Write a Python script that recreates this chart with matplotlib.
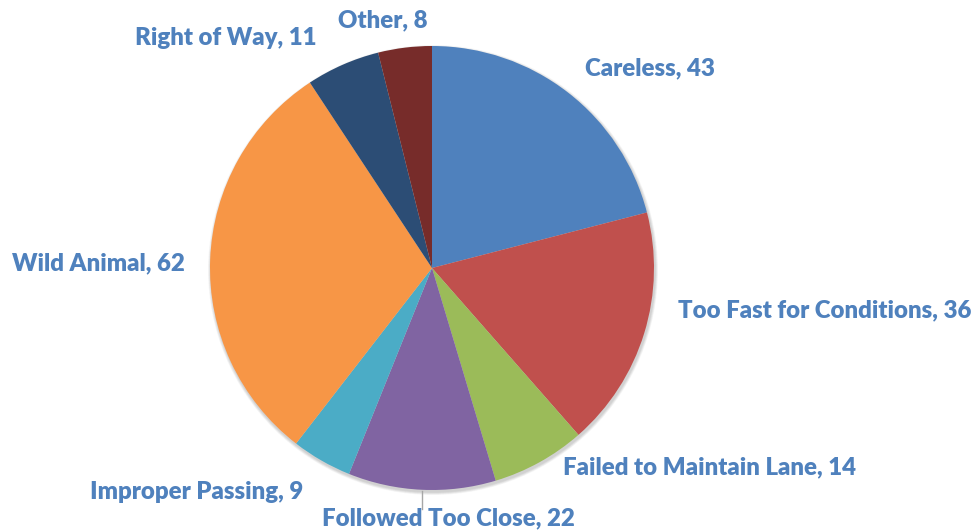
import matplotlib.pyplot as plt
import numpy as np

causes = ["Careless", "Too Fast for Conditions", "Failed to Maintain Lane",
          "Followed Too Close", "Improper Passing", "Wild Animal",
          "Right of Way", "Other"]
counts = [43, 36, 14, 22, 9, 62, 11, 8]
colors = ["#4F81BD", "#C0504D", "#9BBB59", "#8064A2",
          "#4BACC6", "#F79646", "#2C4D75", "#772C2A"]

# label centres in pixel space (x from left, y from top)
label_pos = [(650, 68), (825, 310), (710, 467), (448, 518),
             (197, 492), (98, 263), (226, 38), (383, 20)]

W, H = 979, 531
cx, cy, r = 432, 268, 222

fig = plt.figure(figsize=(W / 100, H / 100), dpi=100)
ax = fig.add_axes([0, 0, 1, 1])

# soft shadow
for k in range(6):
    shadow = plt.Circle((cx + 1, cy + 2), r + 3 - k * 0.5, color="black",
                        alpha=0.03, zorder=0, lw=0)
    ax.add_patch(shadow)

# y axis is inverted, so counterclock=True runs clockwise on screen
wedges, _ = ax.pie(counts, colors=colors, startangle=-90, counterclock=True,
                   radius=r, center=(cx, cy), frame=True,
                   wedgeprops=dict(linewidth=0))
ax.set_xlim(0, W)
ax.set_ylim(H, 0)
ax.set_aspect("equal")
ax.axis("off")

for name, n, (tx, ty) in zip(causes, counts, label_pos):
    ax.text(tx, ty, f"{name}, {n}", ha="center", va="center",
            fontsize=17.3, fontweight="heavy", color="#4F81BD", family="Lato")

# leader line for Followed Too Close
ax.plot([422, 422], [cy + r + 1, 509], color="#A6A6A6", lw=1)

fig.savefig("out.png", dpi=100)
